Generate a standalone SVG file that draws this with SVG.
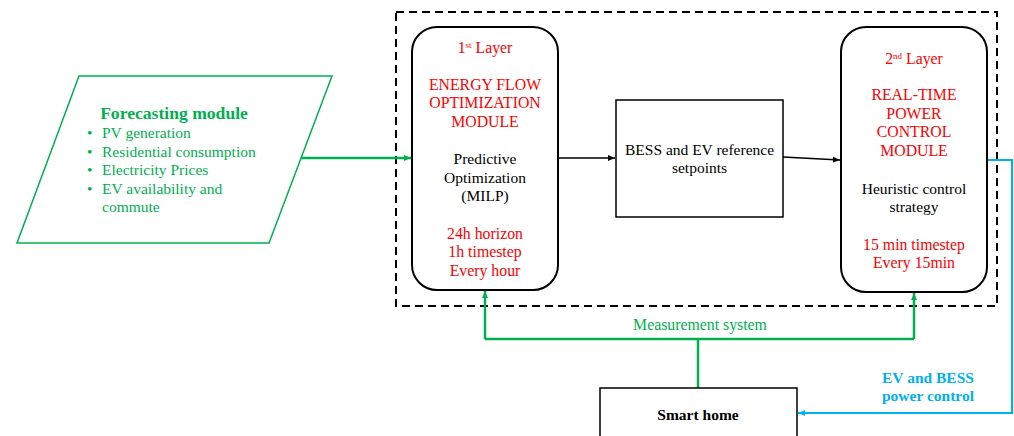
<svg xmlns="http://www.w3.org/2000/svg" width="1014" height="436" viewBox="0 0 1014 436">
<style>
text{font-family:"Liberation Serif","Times New Roman",serif;font-size:15.5px;}
.red{fill:#FF0000;text-anchor:middle;font-size:15.8px;}
.blk{fill:#000;text-anchor:middle;}
.grn{fill:#00B050;}
.blu{fill:#00B0F0;font-weight:bold;text-anchor:middle;}
.box{fill:#fff;stroke:#000;stroke-width:2;}
.sup{font-size:9px;}
</style>
<defs>
<marker id="ab" markerWidth="8" markerHeight="8" refX="7" refY="4" orient="auto" markerUnits="userSpaceOnUse"><path d="M0,1 L7,4 L0,7 Z" fill="#000"/></marker>
<marker id="ag" markerWidth="8" markerHeight="8" refX="7" refY="4" orient="auto" markerUnits="userSpaceOnUse"><path d="M0,1 L7,4 L0,7 Z" fill="#00B050"/></marker>
<marker id="au" markerWidth="8" markerHeight="8" refX="7" refY="4" orient="auto" markerUnits="userSpaceOnUse"><path d="M0,1 L7,4 L0,7 Z" fill="#00B0F0"/></marker>
</defs>
<g id="layers-frame">
<rect x="396" y="12" width="601" height="294" fill="none" stroke="#000" stroke-width="2" stroke-dasharray="8,5"/>
</g>
<g id="connectors" fill="none">
<line x1="301" y1="158" x2="411" y2="158" stroke="#00B050" stroke-width="2.5" marker-end="url(#ag)"/>
<line x1="558" y1="158" x2="615" y2="158" stroke="#000" stroke-width="1.3" marker-end="url(#ab)"/>
<line x1="783" y1="157" x2="840" y2="160" stroke="#000" stroke-width="1.3" marker-end="url(#ab)"/>
<polyline points="987,160 1012,160 1012,413 798,413" stroke="#00B0F0" stroke-width="2" marker-end="url(#au)"/>
<polyline points="698,388 698,339" stroke="#00B050" stroke-width="2.5"/>
<polyline points="485,339 914,339" stroke="#00B050" stroke-width="2.5"/>
<line x1="485" y1="339" x2="485" y2="291" stroke="#00B050" stroke-width="2.5" marker-end="url(#ag)"/>
<line x1="914" y1="339" x2="914" y2="293" stroke="#00B050" stroke-width="2.5" marker-end="url(#ag)"/>
<text x="700" y="330" class="grn" text-anchor="middle" style="font-size:15.8px">Measurement system</text>
<text x="928" y="383" class="blu">EV and BESS</text>
<text x="928" y="401" class="blu">power control</text>
</g>
<g id="forecasting">
<polygon points="79,76 332,76 269,243 17,243" fill="#fff" stroke="#00B050" stroke-width="1.5"/>
<text x="174" y="119" class="grn" text-anchor="middle" font-weight="bold" style="font-size:17.6px">Forecasting module</text>
<g class="grn">
<text x="87" y="138">•</text><text x="102" y="138">PV generation</text>
<text x="87" y="157">•</text><text x="102" y="157">Residential consumption</text>
<text x="87" y="175">•</text><text x="102" y="175">Electricity Prices</text>
<text x="87" y="194">•</text><text x="102" y="194">EV availability and</text>
<text x="102" y="212">commute</text>
</g>
</g>
<g id="layer1">
<rect x="412" y="27" width="146" height="263" rx="25" class="box"/>
<text x="485" y="53" class="red">1<tspan class="sup" dy="-5">st</tspan><tspan dy="5"> Layer</tspan></text>
<text x="485" y="90" class="red">ENERGY FLOW</text>
<text x="485" y="108" class="red">OPTIMIZATION</text>
<text x="485" y="127" class="red">MODULE</text>
<text x="485" y="164" class="blk">Predictive</text>
<text x="485" y="183" class="blk">Optimization</text>
<text x="485" y="201" class="blk">(MILP)</text>
<text x="485" y="239" class="red">24h horizon</text>
<text x="485" y="257" class="red">1h timestep</text>
<text x="485" y="276" class="red">Every hour</text>
</g>
<g id="setpoints">
<rect x="616" y="100" width="167" height="117" fill="#fff" stroke="#000" stroke-width="1.5"/>
<text x="699.5" y="155" class="blk">BESS and EV reference</text>
<text x="699.5" y="173" class="blk">setpoints</text>
</g>
<g id="layer2">
<rect x="841" y="27" width="146" height="265" rx="25" class="box"/>
<text x="914" y="64" class="red">2<tspan class="sup" dy="-5">nd</tspan><tspan dy="5"> Layer</tspan></text>
<text x="914" y="100" class="red">REAL-TIME</text>
<text x="914" y="119" class="red">POWER</text>
<text x="914" y="137" class="red">CONTROL</text>
<text x="914" y="156" class="red">MODULE</text>
<text x="914" y="194" class="blk">Heuristic control</text>
<text x="914" y="212" class="blk">strategy</text>
<text x="914" y="250" class="red">15 min timestep</text>
<text x="914" y="268" class="red">Every 15min</text>
</g>
<g id="smart-home">
<rect x="600" y="388" width="197" height="60" fill="#fff" stroke="#000" stroke-width="1.5"/>
<text x="698" y="420" class="blk" font-weight="bold">Smart home</text>
</g>
</svg>
